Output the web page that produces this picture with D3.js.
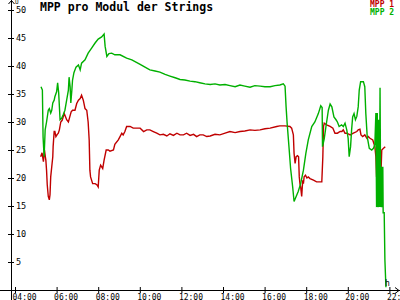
<!DOCTYPE html>
<html>
<head>
<meta charset="utf-8">
<script src="https://cdn.jsdelivr.net/npm/d3@7"></script>
<style>
body { margin: 0; background: #fff; }
svg { display: block; }
text { font-family: "DejaVu Sans Mono", monospace; }
</style>
</head>
<body>
<svg width="400" height="300"></svg>
<script>
var title = "MPP pro Modul der Strings";
var seriesNames = ["MPP 1", "MPP 2"];
var seriesColors = ["#c00000", "#00b000"];
var yTicks = [5, 10, 15, 20, 25, 30, 35, 40, 45, 50];
var xTicks = ["04:00", "06:00", "08:00", "10:00", "12:00", "14:00", "16:00", "18:00", "20:00", "22:00"];

var mpp1Times = ["05:14","05:18","05:22","05:25","05:28","05:29","05:31","05:33","05:36","05:39","05:41","05:43","05:46","05:49","05:50","05:53","05:55","05:58","06:02","06:05","06:08","06:12","06:16","06:19","06:22","06:26","06:29","06:34","06:37","06:42","06:46","06:53","06:58","07:03","07:08","07:12","07:17","07:22","07:27","07:31","07:34","07:36","07:38","07:44","07:51","07:56","08:00","08:03","08:07","08:13","08:17","08:23","08:29","08:34","08:44","08:48","08:58","09:03","09:08","09:12","09:17","09:22","09:32","09:41","09:51","10:01","10:11","10:20","10:29","10:39","10:49","10:58","11:08","11:18","11:27","11:37","11:47","11:56","12:06","12:15","12:25","12:35","12:44","12:53","13:03","13:13","13:23","13:37","13:51","14:06","14:20","14:35","14:49","15:03","15:18","15:32","15:47","16:01","16:16","16:35","16:44","16:59","17:13","17:18","17:23","17:25","17:28","17:31","17:35","17:38","17:40","17:42","17:44","17:47","17:50","17:52","17:54","17:58","18:02","18:06","18:11","18:21","18:30","18:45","18:48","18:50","18:52","18:59","19:09","19:17","19:23","19:30","19:38","19:43","19:47","19:52","19:57","20:07","20:16","20:26","20:30","20:35","20:38","20:43","20:49","20:55","20:59","21:04","21:12","21:18","21:21","21:23","21:25","21:28","21:31","21:33","21:36","21:38","21:43","21:48"];
var mpp1Values = [23.8,24.5,22.9,25.0,23.6,23.2,21.4,18.8,16.7,16.1,17.0,20.2,22.0,23.8,25.6,28.3,28.3,27.4,27.8,28.0,28.6,30.0,30.3,30.9,31.5,30.9,30.4,30.0,30.7,31.8,32.1,32.1,33.3,33.9,34.2,34.8,33.9,32.4,32.1,30.0,26.8,21.4,20.2,19.0,19.0,18.8,18.4,21.4,22.3,21.7,23.2,25.0,25.0,24.8,25.0,26.0,26.8,27.4,28.0,27.7,28.3,29.2,29.2,28.9,28.9,28.9,28.3,28.6,28.6,28.3,28.0,27.7,27.8,27.5,27.9,27.6,28.0,27.7,27.7,28.0,27.6,27.8,27.4,27.7,27.7,27.4,27.5,27.8,27.7,28.0,28.3,28.1,28.3,28.4,28.6,28.5,28.6,28.8,28.9,29.2,29.3,29.3,29.2,28.9,27.7,24.4,22.6,23.8,24.0,23.8,20.2,19.0,18.4,16.7,19.6,19.0,20.2,20.5,20.0,20.2,19.9,19.6,19.3,19.3,23.8,29.2,29.8,29.5,29.2,28.9,28.0,28.0,28.3,28.3,28.6,28.0,28.0,27.7,28.0,28.3,28.6,28.7,27.7,27.4,27.7,27.1,27.4,27.1,26.8,25.6,23.8,20.2,22.0,23.8,25.6,24.0,21.4,25.0,25.3,25.6];

var mpp2Times = ["05:15","05:19","05:21","05:24","05:27","05:31","05:36","05:39","05:43","05:46","05:49","05:53","05:55","06:00","06:03","06:06","06:10","06:15","06:19","06:24","06:29","06:34","06:36","06:39","06:41","06:44","06:46","06:50","06:56","07:03","07:08","07:12","07:22","07:31","07:41","07:51","08:00","08:10","08:17","08:20","08:25","08:31","08:39","08:48","09:03","09:22","09:37","10:01","10:15","10:29","10:44","10:58","11:13","11:27","11:42","11:56","12:10","12:25","12:39","12:53","13:08","13:23","13:37","13:51","14:06","14:20","14:35","14:49","15:03","15:18","15:32","15:47","16:01","16:16","16:30","16:44","16:54","16:59","17:02","17:05","17:11","17:15","17:21","17:25","17:31","17:37","17:44","17:52","17:59","18:06","18:16","18:25","18:35","18:42","18:46","18:47","18:52","18:57","19:04","19:09","19:14","19:20","19:26","19:30","19:35","19:42","19:47","19:52","19:57","20:01","20:04","20:08","20:11","20:14","20:18","20:22","20:26","20:30","20:33","20:37","20:45","20:49","20:52","20:56","21:02","21:09","21:14","21:18","21:21","21:23","21:25","21:27","21:29","21:31","21:33","21:35","21:37","21:39","21:41","21:42","21:45","21:47","21:50"];
var mpp2Values = [36.3,35.7,27.3,23.8,28.6,30.0,32.1,32.4,31.6,32.1,33.4,33.9,34.5,35.4,37.0,35.2,30.4,30.7,31.3,32.1,33.9,35.7,38.0,36.3,33.4,35.7,37.5,38.8,39.8,40.2,39.3,40.5,41.1,42.3,43.2,44.1,44.8,45.2,45.7,43.5,41.7,42.2,42.3,42.0,42.0,41.4,41.1,40.3,39.8,39.3,39.1,38.9,38.5,38.2,37.9,37.6,37.5,37.3,37.2,37.0,36.8,36.7,36.8,36.6,36.7,36.5,36.3,36.6,36.4,36.2,36.5,36.4,36.3,36.3,36.5,36.6,36.8,36.4,32.7,29.8,25.0,21.7,18.4,15.8,16.7,17.6,19.0,21.4,24.4,26.8,29.2,30.0,31.5,32.9,32.6,25.6,27.0,29.2,32.1,33.2,32.7,30.9,30.4,30.0,29.2,29.5,29.2,29.8,28.6,27.1,23.8,25.6,28.6,30.9,31.5,30.4,31.0,32.7,35.7,37.2,37.2,36.3,31.5,27.4,25.3,25.0,25.3,26.0,31.6,14.8,31.6,14.8,30.4,14.8,36.1,14.8,22.0,14.8,22.0,13.8,13.8,5.4,0.5];

var svg = d3.select("svg");
var width = +svg.attr("width");
var height = +svg.attr("height");
var parse = d3.timeParse("%H:%M");

var x = d3.scaleTime()
	.domain([parse(xTicks[0]), parse(xTicks[xTicks.length - 1])])
	.range([15, 389.4]);
var y = d3.scaleLinear()
	.domain([0, 50])
	.range([290, 10]);

var series = [
	{ name: seriesNames[0], color: seriesColors[0], times: mpp1Times, values: mpp1Values },
	{ name: seriesNames[1], color: seriesColors[1], times: mpp2Times, values: mpp2Values }
];

svg.append("rect").attr("width", width).attr("height", height).attr("fill", "#fff");

// lines
var line = d3.line()
	.x(function(d) { return x(d.t); })
	.y(function(d) { return y(d.v); });

svg.append("g").selectAll("path")
	.data(series)
	.enter().append("path")
		.attr("fill", "none")
		.attr("stroke", function(d) { return d.color; })
		.attr("stroke-width", 1.4)
		.attr("d", function(s) {
			return line(s.times.map(function(t, i) { return { t: parse(t), v: s.values[i] }; }));
		});

// axes
var yAxis = svg.append("g")
	.attr("transform", "translate(11,0)")
	.call(d3.axisRight(y).tickValues(yTicks).tickSize(3).tickPadding(2));
yAxis.select(".domain").remove();
yAxis.selectAll(".tick line").attr("x1", -3).attr("stroke", "#000");
yAxis.selectAll(".tick text")
	.attr("font-size", 8.5)
	.attr("font-family", "DejaVu Sans Mono")
	.attr("fill", "#000");

var xAxis = svg.append("g")
	.attr("transform", "translate(0,290)")
	.call(d3.axisBottom(x)
		.tickValues(xTicks.map(parse))
		.tickFormat(d3.timeFormat("%H:%M"))
		.tickSize(3).tickPadding(1));
xAxis.select(".domain").remove();
xAxis.selectAll(".tick line").attr("y1", -3).attr("stroke", "#000");
xAxis.selectAll(".tick text")
	.attr("font-size", 8)
	.attr("font-family", "DejaVu Sans Mono")
	.attr("text-anchor", "start")
	.attr("dx", -3)
	.attr("fill", "#000");

// axis lines with arrows
var frame = svg.append("g").attr("stroke", "#000").attr("fill", "none").attr("shape-rendering", "crispEdges");
frame.append("line").attr("x1", 11.5).attr("x2", 11.5).attr("y1", 0).attr("y2", 300);
frame.append("line").attr("x1", 0).attr("x2", 400).attr("y1", 290.5).attr("y2", 290.5);
svg.append("path").attr("d", "M8.5,4L11.5,0.5L14.5,4").attr("stroke", "#000").attr("fill", "none");
svg.append("path").attr("d", "M395,287.5L399,290.5L395,293.5").attr("stroke", "#000").attr("fill", "none");

svg.append("text").attr("x", 15).attr("y", 4).attr("font-size", 6).text("U");
svg.append("text").attr("x", 385).attr("y", 286).attr("font-size", 8).text("h");

svg.append("text")
	.attr("x", 40).attr("y", 11)
	.attr("font-size", 11.5)
	.attr("font-weight", "bold")
	.text(title);

svg.append("g").selectAll("text")
	.data(series)
	.enter().append("text")
		.attr("x", 370)
		.attr("y", function(d, i) { return 7 + i * 8; })
		.attr("font-size", 8)
		.attr("font-weight", "bold")
		.attr("fill", function(d) { return d.color; })
		.text(function(d) { return d.name; });
</script>
</body>
</html>
